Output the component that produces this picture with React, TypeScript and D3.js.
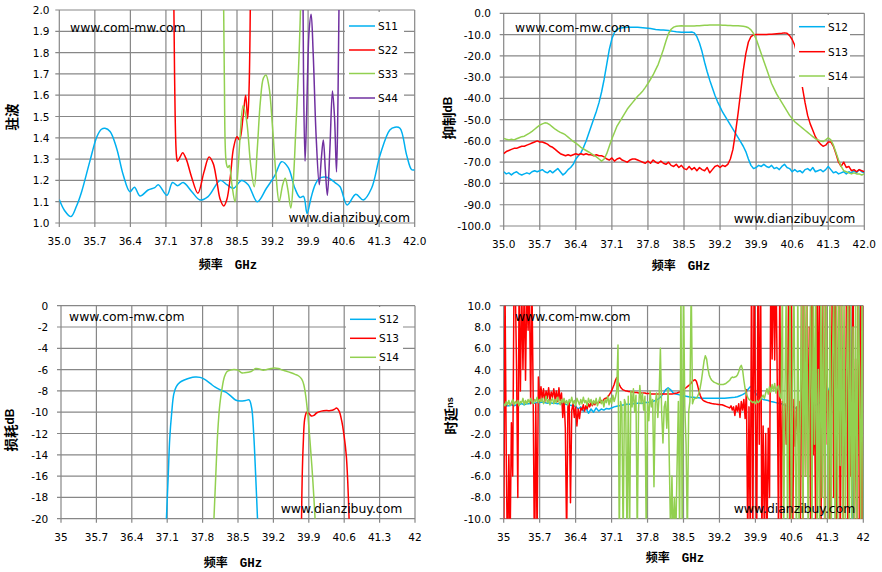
import React from "react";
import * as d3 from "d3";

type Pt = [number, number];

// axis ticks
const X_TICKS = [35, 35.7, 36.4, 37.1, 37.8, 38.5, 39.2, 39.9, 40.6, 41.3, 42];
const VSWR_TICKS = [1.0, 1.1, 1.2, 1.3, 1.4, 1.5, 1.6, 1.7, 1.8, 1.9, 2.0];
const REJ_TICKS = [0, -10, -20, -30, -40, -50, -60, -70, -80, -90, -100];
const LOSS_TICKS = [0, -2, -4, -6, -8, -10, -12, -14, -16, -18, -20];
const DELAY_TICKS = [-10, -8, -6, -4, -2, 0, 2, 4, 6, 8, 10];

// ---- VSWR (GHz, ratio) ----
const S11_VSWR: Pt[] = [
  [35.0, 1.11], [35.1, 1.06], [35.23, 1.03], [35.34, 1.08], [35.44, 1.147], [35.6, 1.288],
  [35.74, 1.405], [35.83, 1.44], [35.9, 1.445], [36.0, 1.43], [36.13, 1.35], [36.26, 1.225],
  [36.39, 1.147], [36.48, 1.168], [36.59, 1.127], [36.75, 1.155], [36.88, 1.166], [36.95, 1.18],
  [37.12, 1.13], [37.23, 1.19], [37.33, 1.175], [37.44, 1.19], [37.61, 1.147], [37.77, 1.108],
  [37.93, 1.124], [38.17, 1.2], [38.3, 1.18], [38.43, 1.163], [38.59, 1.2], [38.72, 1.18],
  [38.9, 1.1], [39.08, 1.163], [39.25, 1.225], [39.38, 1.288], [39.51, 1.26], [39.64, 1.163],
  [39.74, 1.12], [39.81, 1.125], [39.88, 1.045], [39.96, 1.12], [40.04, 1.18], [40.12, 1.21],
  [40.27, 1.215], [40.43, 1.19], [40.53, 1.17], [40.67, 1.085], [40.84, 1.135], [40.99, 1.108],
  [41.15, 1.163], [41.32, 1.32], [41.51, 1.437], [41.61, 1.45], [41.71, 1.445], [41.84, 1.32],
  [41.94, 1.25], [42.0, 1.25],
];
const S22_VSWR: Pt[] = [
  [37.24, 2.6], [37.27, 1.7], [37.31, 1.31], [37.33, 1.29], [37.38, 1.31], [37.43, 1.33],
  [37.5, 1.3], [37.6, 1.22], [37.73, 1.14], [37.85, 1.24], [37.95, 1.31], [38.03, 1.28],
  [38.1, 1.2], [38.17, 1.11], [38.24, 1.08], [38.3, 1.11], [38.37, 1.22], [38.43, 1.35],
  [38.5, 1.405], [38.55, 1.39], [38.62, 1.5], [38.67, 1.6], [38.71, 1.49], [38.74, 1.65],
  [38.78, 2.6],
];
const S33_VSWR: Pt[] = [
  [38.22, 2.6], [38.25, 1.7], [38.29, 1.28], [38.32, 1.26], [38.35, 1.27], [38.4, 1.18],
  [38.46, 1.1], [38.52, 1.25], [38.56, 1.4], [38.62, 1.55], [38.69, 1.48], [38.77, 1.27],
  [38.84, 1.17], [38.9, 1.35], [38.96, 1.57], [39.02, 1.68], [39.07, 1.695], [39.13, 1.64],
  [39.2, 1.45], [39.27, 1.22], [39.33, 1.1], [39.4, 1.18], [39.45, 1.21], [39.5, 1.16],
  [39.56, 1.07], [39.61, 1.2], [39.66, 1.45], [39.71, 1.71], [39.76, 2.1], [39.78, 2.6],
];
const S44_VSWR: Pt[] = [
  [39.79, 2.6], [39.81, 1.7], [39.84, 1.29], [39.87, 1.5], [39.92, 1.9], [39.96, 1.98],
  [40.0, 1.8], [40.06, 1.4], [40.12, 1.18], [40.16, 1.3], [40.2, 1.39], [40.24, 1.25],
  [40.28, 1.13], [40.33, 1.35], [40.38, 1.62], [40.42, 1.5], [40.46, 1.24], [40.49, 1.6],
  [40.53, 2.6],
];

// ---- rejection dB, sweep 35..42 GHz step 0.05 ----
const S12_REJ = [
  -74.5, -75.5, -75, -76, -75, -74.5, -75.5, -76, -75.5, -75,
  -75.5, -74.5, -74, -74.5, -74, -73.5, -74.5, -75, -74, -75,
  -74, -73, -74.5, -76, -75, -73.5, -72.5, -71, -68.5, -67,
  -65.5, -63, -60, -56.5, -53, -49.5, -46, -42, -37, -31,
  -24, -17, -12, -9, -7.5, -7, -6.8, -6.7, -6.6, -6.6,
  -6.6, -6.6, -6.6, -6.7, -6.8, -6.9, -7, -7.2, -7.4, -7.6,
  -7.7, -7.8, -7.9, -8, -8.1, -8.3, -8.5, -8.7, -8.8, -8.9,
  -8.9, -8.9, -8.9, -8.8, -9.2, -11, -14, -18, -23, -27.5,
  -31.5, -35, -38.5, -41.5, -44, -46.5, -48.5, -50.5, -52.5, -54.5,
  -56.5, -58.5, -60.5, -62.5, -65, -68.5, -71.5, -73, -72.5, -71.5,
  -72, -71, -72, -72.5, -71.5, -73, -72.5, -73.5, -72, -71,
  -72.5, -73, -74.5, -73.5, -74.5, -74, -75, -73.5, -73, -74,
  -72.5, -74.5, -74, -73.5, -74.5, -73.5, -72, -73.5, -75, -74.5,
  -75.5, -75, -74.5, -75.5, -74.5, -75, -74, -75, -73.5, -74.5,
  -75,
];
const S13_REJ = [
  -66, -65, -64.5, -64, -63.5, -63.5, -63, -62.5, -62.5, -62,
  -61.5, -61, -60.5, -60, -60.5, -60.5, -61, -61.5, -62.5, -63,
  -64, -65, -66, -66.5, -67, -66.5, -67, -66.5, -66, -66.5,
  -66, -66.5, -66, -66.5, -66.5, -67, -66.5, -67, -67, -67.5,
  -68.5, -69, -68, -69.5, -68.5, -68, -69, -69.5, -70, -69,
  -68.5, -68.5, -69, -69.5, -70, -70.5, -69.5, -70.5, -69, -70,
  -70.5, -69.5, -70.5, -71, -70, -71.5, -72, -71, -72.5, -71.5,
  -73, -73.5, -72, -73.5, -72.5, -74, -72.5, -73.5, -74, -72.5,
  -75, -73.5, -72, -71.5, -72.5, -71.5, -72, -71, -68.5, -64,
  -56, -47, -37, -27, -19, -13.5, -11, -10.2, -10, -10,
  -10, -10, -10, -9.9, -9.8, -9.7, -9.6, -9.5, -9.4, -9.2,
  -9.4, -10.5, -12.3, -15, -20, -27, -35, -42, -48, -52,
  -55, -58, -60, -61.5, -62.5, -62, -60.5, -60.5, -62.5, -66,
  -70, -72, -70, -72.5, -72, -74, -73.5, -74.5, -73.5, -74,
  -74.5,
];
const S14_REJ = [
  -58.8, -59.2, -59.5, -59.2, -59.5, -59, -58.5, -58, -57.8, -57,
  -56.3, -55.5, -54.5, -53.5, -52.6, -52, -51.5, -51.7, -52.5, -53.5,
  -54.5, -55.3, -56, -56.5, -57.2, -58.2, -59.2, -60.2, -61, -62,
  -63, -63.8, -64.5, -65.2, -66, -66.8, -67.5, -68.5, -69.5, -68.5,
  -66, -62.5, -59, -56, -53, -51, -49, -47, -45, -43.5,
  -42, -40.5, -39, -37.8, -36.5, -34.8, -33, -31, -29, -26.5,
  -24, -20.5, -17, -13, -9.5, -7.5, -6.5, -6.1, -6, -5.9,
  -6, -6, -6, -6, -6, -5.9, -5.8, -5.7, -5.6, -5.6,
  -5.5, -5.5, -5.5, -5.5, -5.5, -5.6, -5.6, -5.7, -5.7, -5.8,
  -5.8, -5.9, -6, -6.1, -6.3, -6.8, -7.8, -9.5, -12, -15.5,
  -19, -22.5, -26, -29.5, -33, -35.5, -38, -40, -42, -44,
  -46, -48, -49.5, -51, -52, -53, -54, -55, -56, -57,
  -58, -59, -59.5, -60, -60.3, -59.5, -58.5, -59.5, -62, -65.5,
  -69, -72, -74, -74.5, -75, -75.5, -75, -75.5, -75.5, -76,
  -75.5,
];

// ---- insertion loss (GHz, dB) ----
const S12_LOSS: Pt[] = [
  [37.08, -20.5], [37.12, -16], [37.15, -12.5], [37.19, -10], [37.23, -8.3], [37.28, -7.6],
  [37.35, -7.2], [37.45, -6.95], [37.55, -6.78], [37.65, -6.7], [37.75, -6.73], [37.85, -6.95],
  [37.95, -7.3], [38.05, -7.65], [38.15, -7.9], [38.25, -8.1], [38.35, -8.45], [38.45, -8.85],
  [38.55, -8.95], [38.65, -8.9], [38.72, -8.85], [38.77, -9.6], [38.81, -12], [38.85, -16],
  [38.89, -20.5],
];
const S13_LOSS: Pt[] = [
  [39.755, -20.5], [39.77, -16], [39.79, -13], [39.82, -10.6], [39.86, -10.0], [39.9, -10.1],
  [39.95, -10.35], [40.0, -10.3], [40.06, -10.05], [40.15, -9.9], [40.25, -9.85], [40.33, -9.85],
  [40.4, -9.75], [40.45, -9.6], [40.5, -9.9], [40.55, -10.8], [40.6, -12.3], [40.64, -14],
  [40.67, -16.5], [40.7, -20.5],
];
const S14_LOSS: Pt[] = [
  [38.02, -20.5], [38.06, -16], [38.1, -11.8], [38.14, -9.3], [38.18, -7.9], [38.23, -6.7],
  [38.28, -6.2], [38.35, -6.05], [38.42, -6.0], [38.5, -6.05], [38.57, -6.3], [38.63, -6.3],
  [38.7, -6.25], [38.77, -6.15], [38.85, -5.9], [38.92, -5.95], [39.0, -6.05], [39.07, -6.0],
  [39.15, -5.9], [39.22, -5.85], [39.3, -5.9], [39.38, -6.05], [39.46, -6.15], [39.55, -6.3],
  [39.63, -6.45], [39.7, -6.6], [39.76, -6.9], [39.8, -7.4], [39.84, -8.5], [39.88, -10.2],
  [39.92, -12.5], [39.96, -15], [40.0, -18], [40.03, -20.5],
];

// ---- group delay ns ----
// S12: sweep step 0.05
const S12_DELAY = [
  0.3, 0.6, 0.6, 0.7, 0.6, 0.7, 0.7, 0.8, 0.7, 0.8,
  0.8, 0.9, 0.85, 0.9, 0.9, 0.95, 0.9, 0.85, 0.9, 0.85,
  0.85, 0.8, 0.85, 0.8, 0.75, 0.7, 0.65, 0.6, 0.55, 0.3,
  0.5, 0.1, 0.4, -0.1, 0.3, 0.0, 0.4, 0.1, 0.3, 0.2,
  0.35, 0.3, 0.4, 0.5, 0.55, 0.6, 0.65, 0.7, 0.75, 0.75,
  0.8, 0.8, 0.85, 0.85, 0.85, 0.9, 0.9, 0.95, 1.0, 1.1,
  1.2, 1.4, 1.7, 2.1, 2.3, 2.1, 1.8, 1.7, 1.65, 1.6,
  1.55, 1.5, 1.45, 1.4, 1.4, 1.35, 1.35, 1.3, 1.3, 1.3,
  1.3, 1.3, 1.3, 1.3, 1.3, 1.3, 1.32, 1.34, 1.36, 1.38,
  1.4, 1.45, 1.55, 1.65, 1.8, 2.1, 2.4, 2.2, 1.8, 1.5,
  1.3, 1.2, 1.15, 1.1, 1.0, 0.95, 0.9, 0.85, 0.8, 0.7,
  0.6, 0.5, 0.45, 0.5, 0.3, 0.6, 0.2, 0.5, 0.25, 0.5,
  0.4, 0.6, 0.7, 0.9, 1.1, 1.4, 1.8, 2.4, 1.5, 2.0,
  1.0, 0.7, 1.6, 0.5, 1.3, 12, -12, 1.0, 1.5, 12,
  -12,
];
// S13, S14: sweep step 0.025
const S13_DELAY = [
  -15, 12, -4, -15, -4, -12, -1, -6, 12, 12,
  4.3, -8, 12, 2, 12, 4, 12, 3, 12, 7.7,
  12, 0.8, 12, 1, -15, 0.8, -12, 3.3, 1.0, 2.4,
  1.2, 2.2, 1.0, 2.0, 1.3, 2.3, 1.1, 1.9, 1.4, 2.2,
  1.2, 2.0, 1.0, 2.3, 1.1, 1.8, -0.5, 1.2, -1.5, -12,
  0.5, 1.0, -8.5, 0.2, 0.8, -0.5, 0.6, -1.3, 0.3, -0.6,
  0.4, 0.2, 0.7, 0.1, 0.6, 0.3, 0.8, 0.5, 0.9, 0.6,
  0.9, 0.7, 1.0, 0.8, 1.0, 0.9, 1.1, 1.0, 1.2, 1.3,
  1.3, 1.45, 1.6, 1.8, 2.0, 2.3, 2.6, 3.0, 3.25, 2.9,
  2.6, 2.35, 2.2, 2.1, 2.05, 2.0, 2.0, 1.95, 1.95, 1.9,
  1.9, 1.9, 1.85, 1.85, 1.85, 1.8, 1.8, 1.8, 1.8, 1.8,
  1.8, 1.75, 1.75, 1.75, 1.75, 1.7, 1.7, 1.7, 1.7, 1.7,
  1.7, 1.7, 1.7, 1.7, 1.7, 1.7, 1.7, 1.7, 1.7, 1.7,
  1.7, 1.7, 1.72, 1.75, 1.78, 1.8, 1.85, 1.9, 1.95, 2.0,
  2.1, 2.2, 2.3, 2.4, 2.5, 2.6, 2.75, 2.9, 3.0, 3.05,
  2.9, 2.5, 2.0, 1.6, 1.3, 1.15, 1.05, 1.0, 0.95, 0.9,
  0.88, 0.85, 0.82, 0.8, 0.78, 0.76, 0.75, 0.73, 0.72, 0.7,
  0.7, 0.65, 0.6, 0.55, 0.5, 0.45, 0.4, 0.6, 0.2, 0.5,
  -0.3, 0.6, 0.1, 0.8, -0.5, 1.0, 0.2, 1.2, -0.6, 2.1,
  -12, 0.5, -12, 14, -12, 14, 1.0, -12, 14, -3,
  14, -12, -1.3, -12, -2, -12, -1.5, -8, 14, 5,
  14, 4.9, 14, 3, -12, 14, -12, 1, -4, 0.8,
  -3, 1.2, 14, -12, 14, -12, 1.2, -3.2, 0.5, -2,
  1.0, -12, 14, -12, 14, -6, 12, -3, 8, -12,
  14, -4, 1, -12, 14, -2, 14, -12, 3, 14,
  -12, 14, -3, 2, -12, 1.5, 14, -8, 14, -12,
  1, 14, -12, 14, -12, 3, -6, 14, -12, 14,
  -6, 2, 14, -12, 5, -12, 14, -12, 14, -12,
  14,
];
const S14_DELAY = [
  0.8, 0.6, 1.0, 0.7, 1.1, 0.6, 0.9, 1.2, 0.7, 1.0,
  0.8, 1.1, 0.6, 1.0, 0.9, 1.3, 0.7, 1.1, 0.8, 1.2,
  0.9, 1.3, 1.0, 0.8, 1.2, 1.0, 1.4, 0.9, 1.2, 1.0,
  1.3, 0.8, 1.1, 1.5, 0.9, 1.2, 0.7, 1.1, 1.3, 0.8,
  1.2, 0.9, 1.4, 1.0, 0.7, 1.2, 0.9, 1.3, 0.8, 1.1,
  0.7, 1.2, 0.9, 1.4, 0.8, 1.1, 0.6, 1.3, 1.0, 0.7,
  1.2, 0.8, 1.4, 0.9, 1.1, 0.6, 1.3, 0.9, 1.2, 0.7,
  1.1, 0.8, 1.3, 0.6, 1.0, 1.4, 0.8, 1.1, 0.5, 1.2,
  0.9, 1.5, 0.7, 1.3, 0.8, 1.6, 1.0, 1.4, 2.0, 6.3,
  -12, 1.0, 0.5, -12, 1.2, 0.8, -12, 1.5, -12, 2.0,
  0.5, 2.2, 0.0, 1.6, -12, 0.3, 2.5, 0.8, 1.8, 0.2,
  1.5, -12, 1.0, -0.8, 2.0, 0.5, 1.2, -7, 0.8, 1.8,
  -0.5, 1.5, 6.0, -0.1, -2.9, 0.5, 1.0, -1.5, 2.2, -5,
  -12, -6, -12, -8, -12, -5, 1.0, -12, 12, -12,
  12, 0.5, -3, -12, 0.0, 1.0, 12, 0.8, 1.2, 1.3,
  1.3, 1.5, 1.8, 2.3, 3.0, 3.9, 4.8, 5.3, 5.0, 4.1,
  3.5, 3.2, 3.0, 2.9, 2.8, 2.75, 2.7, 2.65, 2.6, 2.6,
  2.6, 2.6, 2.65, 2.7, 2.8, 2.9, 3.0, 3.2, 3.3, 3.25,
  3.3, 3.35, 3.5, 3.8, 4.2, 4.4, 4.0, 3.0, 2.2, 1.7,
  1.4, 1.2, 1.1, 1.0, 0.9, 1.0, 0.8, 1.1, 0.9, 1.0,
  1.2, 1.4, 1.6, 1.3, 1.8, 2.2, 1.7, 2.4, 1.9, 2.6,
  2.0, 2.7, 1.8, 2.3, 2.5, 1.5, 1.3, 12, -12, 2.0,
  12, -12, 0.5, 12, -12, 3, 12, -4, -12, 12,
  -12, 1, 12, -12, 12, -6, 12, -12, 2, 12,
  -12, 12, -3, 12, -12, 4, -12, 12, -8, 12,
  -12, 12, 2, -12, 12, -12, 5, 12, -12, 12,
  -12, 12, -5, 12, -12, 12, -12, 3, 12, -12,
  12, -12, 8, -12, 12, -12, 12, 4, -12, 12,
  -12,
];

const BLUE = "#00B0F0";
const RED = "#FF0000";
const GREEN = "#92D050";
const PURPLE = "#7030A0";
const GRID = "#878787";
const TICK_FONT = "'DejaVu Sans', Verdana, sans-serif";
const CJK_FONT = "'Noto Sans CJK SC', sans-serif";

// measurement sweep frequencies
const sweep = (n: number, step: number) => d3.range(n).map((i) => 35 + i * step);
const F50 = sweep(141, 0.05);
const F25 = sweep(281, 0.025);
const zip = (f: number[], v: number[]): Pt[] => v.map((d, i) => [f[i], d]);

type Series = { name: string; color: string; pts: Pt[] };
type Box = { x: number; y: number; w: number; h: number };

type PanelProps = {
  id: string;
  box: Box;
  yDomain: [number, number];
  yTicks: number[];
  yFmt: (v: number) => string;
  xFmt: (v: number) => string;
  yLabelRight: number;
  xLabelY: number;
  series: Series[];
  smooth: boolean;
  legend?: { box: Box; lineX: number; rows: number[] };
  xTitle: [number, number];
  yTitle: { x: number; y: number; main: string; unit?: string; unitSize?: number };
  markTop: [number, number];
  markBottom: [number, number];
};

function Panel(p: PanelProps) {
  const { box } = p;
  const x = d3.scaleLinear().domain([35, 42]).range([box.x, box.x + box.w]);
  const y = d3.scaleLinear().domain(p.yDomain).range([box.y + box.h, box.y]);
  const line = d3
    .line<Pt>()
    .x((d) => x(d[0]))
    .y((d) => y(d[1]))
    .curve(p.smooth ? d3.curveCatmullRom.alpha(0.5) : d3.curveLinear);
  const clip = `clip-${p.id}`;

  return (
    <g>
      <clipPath id={clip}>
        <rect x={box.x} y={box.y} width={box.w} height={box.h} />
      </clipPath>

      {/* grid */}
      {p.yTicks.map((t) => (
        <line key={`h${t}`} x1={box.x - 4} x2={box.x + box.w} y1={y(t)} y2={y(t)} stroke={GRID} strokeWidth={1.2} />
      ))}
      {X_TICKS.map((t) => (
        <line key={`v${t}`} x1={x(t)} x2={x(t)} y1={box.y} y2={box.y + box.h + 4} stroke={GRID} strokeWidth={1.2} />
      ))}

      {/* tick labels */}
      {p.yTicks.map((t) => (
        <text key={`yl${t}`} x={p.yLabelRight} y={y(t)} textAnchor="end" dominantBaseline="central"
          fontFamily={TICK_FONT} fontSize={10.5} fill="#000">
          {p.yFmt(t)}
        </text>
      ))}
      {X_TICKS.map((t) => (
        <text key={`xl${t}`} x={x(t)} y={p.xLabelY} textAnchor="middle" dominantBaseline="central"
          fontFamily={TICK_FONT} fontSize={10.5} fill="#000">
          {p.xFmt(t)}
        </text>
      ))}

      {/* series */}
      <g clipPath={`url(#${clip})`}>
        {p.series.map((s) => (
          <path key={s.name} d={line(s.pts) ?? ""} fill="none" stroke={s.color} strokeWidth={1.5}
            strokeLinejoin="round" />
        ))}
      </g>

      {/* legend */}
      {p.legend && (
        <g>
          <rect x={p.legend.box.x} y={p.legend.box.y} width={p.legend.box.w} height={p.legend.box.h} fill="#fff" />
          {p.series.map((s, i) => (
            <g key={`lg${s.name}`}>
              <line x1={p.legend!.lineX} x2={p.legend!.lineX + 26} y1={p.legend!.rows[i]} y2={p.legend!.rows[i]}
                stroke={s.color} strokeWidth={1.5} />
              <text x={p.legend!.lineX + 29} y={p.legend!.rows[i]} dominantBaseline="central"
                fontFamily={TICK_FONT} fontSize={10.5} fill="#000">
                {s.name}
              </text>
            </g>
          ))}
        </g>
      )}

      {/* watermarks */}
      <text x={p.markTop[0]} y={p.markTop[1]} fontFamily={TICK_FONT} fontSize={12.4} fill="#000">
        www.com-mw.com
      </text>
      <text x={p.markBottom[0]} y={p.markBottom[1]} textAnchor="end" fontFamily={TICK_FONT} fontSize={12.4} fill="#000">
        www.dianzibuy.com
      </text>

      {/* axis titles */}
      <text x={p.xTitle[0]} y={p.xTitle[1] + 4.5} textAnchor="middle" fontWeight="bold" fill="#000">
        <tspan fontFamily={CJK_FONT} fontSize={12}>频率</tspan>
        <tspan fontFamily="'Liberation Mono', 'DejaVu Sans Mono', monospace" fontSize={12.5} dx={12}>GHz</tspan>
      </text>
      <text transform={`translate(${p.yTitle.x},${p.yTitle.y}) rotate(-90)`} textAnchor="middle"
        dominantBaseline="central" fontWeight="bold" fill="#000">
        <tspan fontFamily={CJK_FONT} fontSize={13.5}>{p.yTitle.main}</tspan>
        {p.yTitle.unit && (
          <tspan fontFamily="'Liberation Sans', Arial, sans-serif" fontSize={p.yTitle.unitSize ?? 12}>
            {p.yTitle.unit}
          </tspan>
        )}
      </text>
    </g>
  );
}

const fix1 = (v: number) => v.toFixed(1);
const plain = (v: number) => String(v);

export default function App() {
  return (
    <svg width={882} height={572} style={{ position: "absolute", left: 0, top: 0, background: "#fff" }}>
      <Panel
        id="vswr"
        box={{ x: 59.3, y: 10, w: 355.4, h: 213 }}
        yDomain={[1, 2]}
        yTicks={VSWR_TICKS}
        yFmt={fix1}
        xFmt={fix1}
        yLabelRight={49.5}
        xLabelY={240.7}
        smooth
        series={[
          { name: "S11", color: BLUE, pts: S11_VSWR },
          { name: "S22", color: RED, pts: S22_VSWR },
          { name: "S33", color: GREEN, pts: S33_VSWR },
          { name: "S44", color: PURPLE, pts: S44_VSWR },
        ]}
        legend={{ box: { x: 345, y: 12, w: 59, h: 98 }, lineX: 349, rows: [26, 50, 73.5, 98] }}
        xTitle={[228, 264]}
        yTitle={{ x: 11, y: 117, main: "驻波" }}
        markTop={[70, 31.7]}
        markBottom={[410, 222]}
      />
      <Panel
        id="rej"
        box={{ x: 503.7, y: 13.3, w: 360.6, h: 212.7 }}
        yDomain={[-100, 0]}
        yTicks={REJ_TICKS}
        yFmt={fix1}
        xFmt={fix1}
        yLabelRight={491}
        xLabelY={244.3}
        smooth={false}
        series={[
          { name: "S12", color: BLUE, pts: zip(F50, S12_REJ) },
          { name: "S13", color: RED, pts: zip(F50, S13_REJ) },
          { name: "S14", color: GREEN, pts: zip(F50, S14_REJ) },
        ]}
        legend={{ box: { x: 795, y: 15, w: 55, h: 72 }, lineX: 799, rows: [26.7, 51.7, 76] }}
        xTitle={[681, 265]}
        yTitle={{ x: 448, y: 118, main: "抑制", unit: "dB" }}
        markTop={[515, 32]}
        markBottom={[855.3, 222.7]}
      />
      <Panel
        id="loss"
        box={{ x: 61, y: 305.7, w: 354, h: 213 }}
        yDomain={[-20, 0]}
        yTicks={LOSS_TICKS}
        yFmt={plain}
        xFmt={plain}
        yLabelRight={48.3}
        xLabelY={537}
        smooth
        series={[
          { name: "S12", color: BLUE, pts: S12_LOSS },
          { name: "S13", color: RED, pts: S13_LOSS },
          { name: "S14", color: GREEN, pts: S14_LOSS },
        ]}
        legend={{ box: { x: 346, y: 307, w: 57, h: 59 }, lineX: 350, rows: [319.3, 338.3, 357.3] }}
        xTitle={[233, 562.5]}
        yTitle={{ x: 10, y: 430, main: "损耗", unit: "dB" }}
        markTop={[69, 320.7]}
        markBottom={[402.3, 512.7]}
      />
      <Panel
        id="delay"
        box={{ x: 503.7, y: 305.7, w: 359.6, h: 213 }}
        yDomain={[-10, 10]}
        yTicks={DELAY_TICKS}
        yFmt={fix1}
        xFmt={plain}
        yLabelRight={491}
        xLabelY={537.3}
        smooth={false}
        series={[
          { name: "S12", color: BLUE, pts: zip(F50, S12_DELAY) },
          { name: "S13", color: RED, pts: zip(F25, S13_DELAY) },
          { name: "S14", color: GREEN, pts: zip(F25, S14_DELAY) },
        ]}
        xTitle={[675, 557]}
        yTitle={{ x: 450, y: 416, main: "时延", unit: "ns", unitSize: 9 }}
        markTop={[515, 320.7]}
        markBottom={[855.3, 512.7]}
      />
    </svg>
  );
}
